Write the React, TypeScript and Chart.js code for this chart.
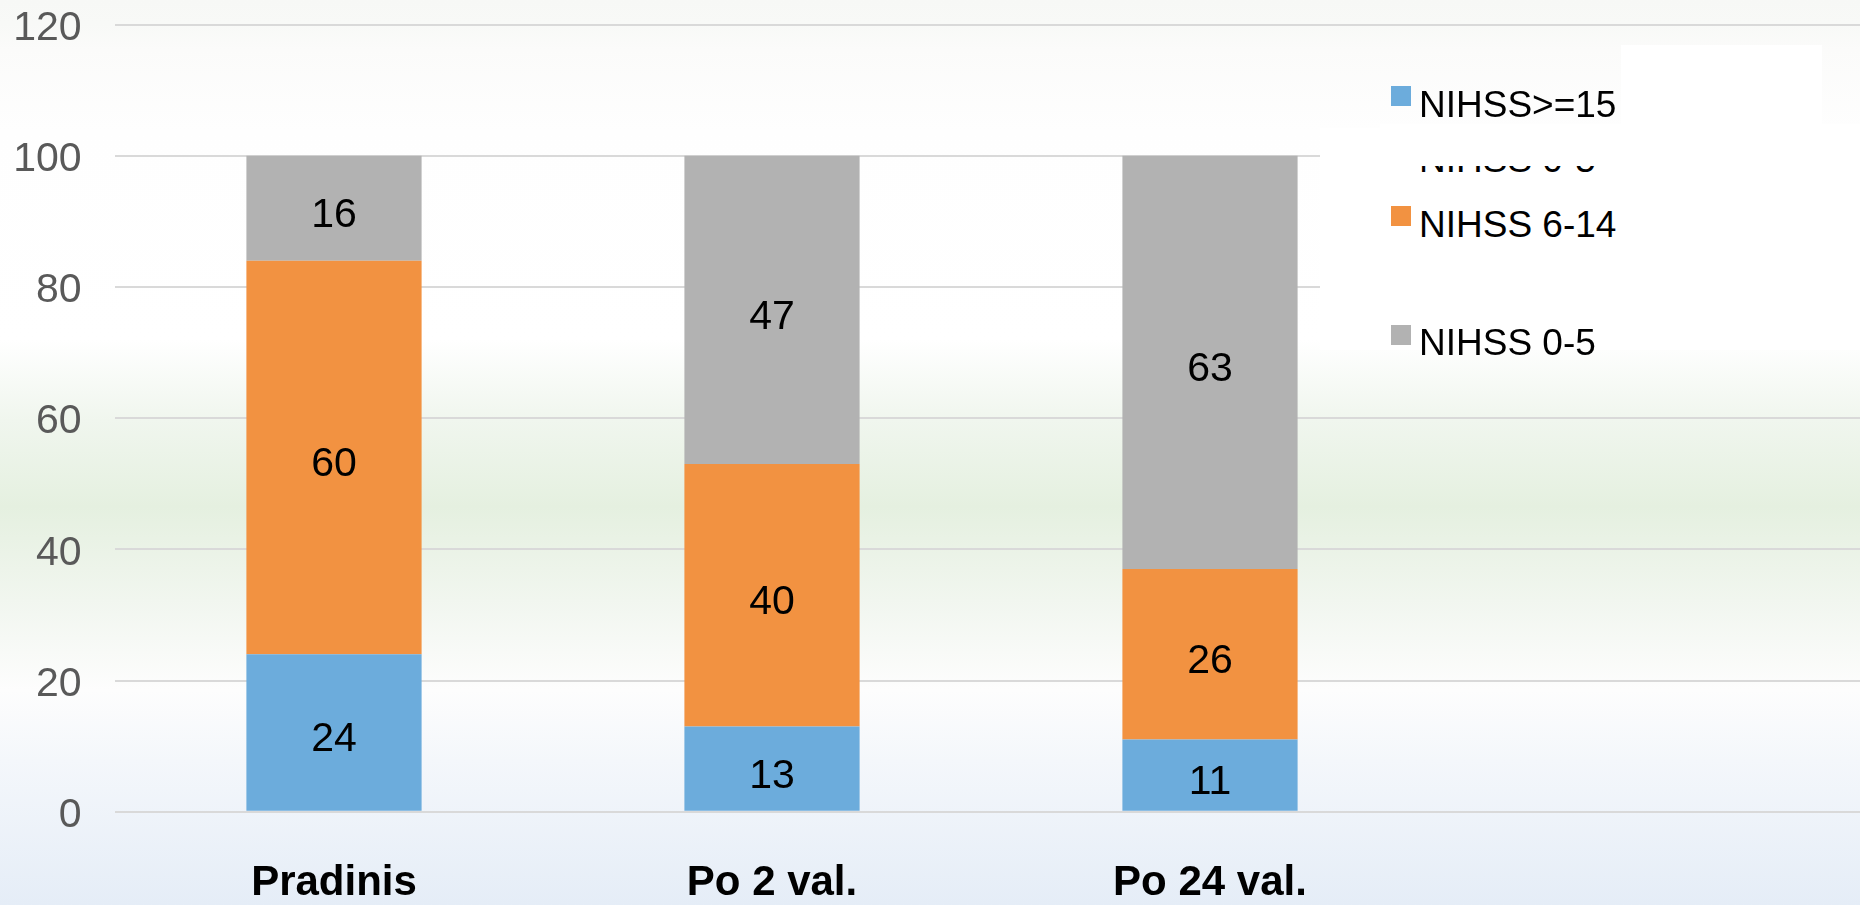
import React, { useEffect, useRef } from "react";
import { Chart, registerables } from "chart.js";

Chart.register(...registerables);

// ---- data ----
const categories = ["Pradinis", "Po 2 val.", "Po 24 val."];
const seriesNames = ["NIHSS>=15", "NIHSS 6-14", "NIHSS 0-5"];
const severeValues = [24, 13, 11];
const moderateValues = [60, 40, 26];
const mildValues = [16, 47, 63];
const seriesColors = ["#6CACDC", "#F29241", "#B2B2B2"];
const ghostLegendLabel = "NIHSS 0-5";
const yMin = 0;
const yMax = 120;
const yStep = 20;

// ---- layout / style ----
const W = 1860;
const H = 905;
const FONT = '"Liberation Sans", Arial, sans-serif';
const GRID = "#d9d9d9";

const backgroundPlugin = {
  id: "slideBackground",
  beforeDraw(chart: any) {
    const { ctx, width, height } = chart;
    const g = ctx.createLinearGradient(0, 0, 0, height);
    const stops: [number, string][] = [
      [0, "#f7f8f6"],
      [24, "#f8f9f7"],
      [50, "#fbfbfa"],
      [130, "#fefefe"],
      [340, "#ffffff"],
      [420, "#f0f6ee"],
      [507, "#e5f0e0"],
      [600, "#f1f6ef"],
      [690, "#fdfdfd"],
      [760, "#f4f7fb"],
      [905, "#e5edf7"],
    ];
    stops.forEach(([y, c]) => g.addColorStop(Math.min(1, y / H), c));
    ctx.save();
    ctx.fillStyle = g;
    ctx.fillRect(0, 0, width, height);
    ctx.restore();
  },
};

const extendGridPlugin = {
  id: "extendGrid",
  beforeDatasetsDraw(chart: any) {
    const { ctx, chartArea } = chart;
    const ys = chart.scales.y;
    ctx.save();
    ctx.strokeStyle = GRID;
    ctx.lineWidth = 2;
    ys.ticks.forEach((t: any) => {
      const py = Math.round(ys.getPixelForValue(t.value));
      ctx.beginPath();
      ctx.moveTo(chartArea.right, py);
      ctx.lineTo(chart.width, py);
      ctx.stroke();
    });
    ctx.restore();
  },
};

const valueLabelPlugin = {
  id: "valueLabels",
  afterDatasetsDraw(chart: any) {
    const { ctx } = chart;
    ctx.save();
    ctx.font = `41px ${FONT}`;
    ctx.fillStyle = "#000000";
    ctx.textAlign = "center";
    ctx.textBaseline = "alphabetic";
    chart.data.datasets.forEach((ds: any, i: number) => {
      const meta = chart.getDatasetMeta(i);
      meta.data.forEach((el: any, j: number) => {
        const v = ds.data[j];
        if (v == null) return;
        const { x, y, base } = el.getProps(["x", "y", "base"], true);
        const c = (y + base) / 2 + 5;
        const txt = String(v);
        const m = ctx.measureText(txt);
        ctx.fillText(txt, x, c + m.actualBoundingBoxAscent / 2);
      });
    });
    ctx.restore();
  },
};

function ChartCanvas() {
  const ref = useRef<HTMLCanvasElement | null>(null);
  useEffect(() => {
    if (!ref.current) return;
    const values = [severeValues, moderateValues, mildValues];
    const chart = new Chart(ref.current, {
      type: "bar",
      data: {
        labels: categories,
        datasets: seriesNames.map((name, i) => ({
          label: name,
          data: values[i],
          backgroundColor: seriesColors[i],
          borderWidth: 0,
          barPercentage: 0.4,
          categoryPercentage: 1.0,
        })),
      },
      options: {
        animation: false,
        responsive: false,
        maintainAspectRatio: false,
        devicePixelRatio: 1,
        layout: { padding: { top: 24.5, right: 431, left: 0, bottom: 0 } },
        plugins: {
          legend: { display: false },
          tooltip: { enabled: false },
          title: { display: false },
        },
        scales: {
          x: {
            stacked: true,
            grid: { display: false, drawTicks: false },
            border: { display: false },
            ticks: {
              color: "#000000",
              font: { family: FONT, size: 42, weight: "bold", lineHeight: 1 },
              padding: 50.7,
              maxRotation: 0,
              autoSkip: false,
            },
            afterFit: (s: any) => {
              s.height = 93.3;
              s.paddingLeft = 0;
              s.paddingRight = 0;
            },
          },
          y: {
            stacked: true,
            min: yMin,
            max: yMax,
            grid: { color: GRID, lineWidth: 2, drawTicks: false },
            border: { display: false },
            ticks: {
              stepSize: yStep,
              color: "#595959",
              font: { family: FONT, size: 41, lineHeight: 1 },
              padding: 33.4,
              labelOffset: 4,
            },
            afterFit: (s: any) => {
              s.width = 115;
              s.paddingTop = 0;
              s.paddingBottom = 0;
            },
          },
        },
      },
      plugins: [backgroundPlugin, extendGridPlugin, valueLabelPlugin],
    });
    return () => chart.destroy();
  }, []);
  return (
    <canvas
      ref={ref}
      width={W}
      height={H}
      style={{ position: "absolute", left: 0, top: 0, width: W, height: H, display: "block" }}
    />
  );
}

const legendText: React.CSSProperties = {
  position: "absolute",
  left: 1419,
  fontFamily: FONT,
  fontSize: 37,
  lineHeight: "37px",
  color: "#000000",
  whiteSpace: "nowrap",
};

export default function App() {
  const rowSquareTops = [86, 206, 325];
  const rowTextTops = [85.7, 205.7, 323.7];
  return (
    <div
      style={{
        position: "fixed",
        left: 0,
        top: 0,
        width: W,
        height: H,
        overflow: "hidden",
      }}
    >
      <ChartCanvas />
      {/* legend background */}
      <div style={{ position: "absolute", left: 1320, top: 128, width: 540, height: 222, background: "#ffffff" }} />
      <div style={{ position: "absolute", left: 1621, top: 45, width: 201, height: 80, background: "#ffffff" }} />
      {/* ghost legend entry, mostly hidden */}
      <div style={{ ...legendText, top: 140.7 }}>{ghostLegendLabel}</div>
      <div style={{ position: "absolute", left: 1380, top: 124, width: 480, height: 42, background: "#ffffff" }} />
      {seriesNames.map((name, i) => (
        <React.Fragment key={name}>
          <div
            style={{
              position: "absolute",
              left: 1391,
              top: rowSquareTops[i],
              width: 20,
              height: 20,
              background: seriesColors[i],
            }}
          />
          <div style={{ ...legendText, top: rowTextTops[i] }}>{name}</div>
        </React.Fragment>
      ))}
    </div>
  );
}
